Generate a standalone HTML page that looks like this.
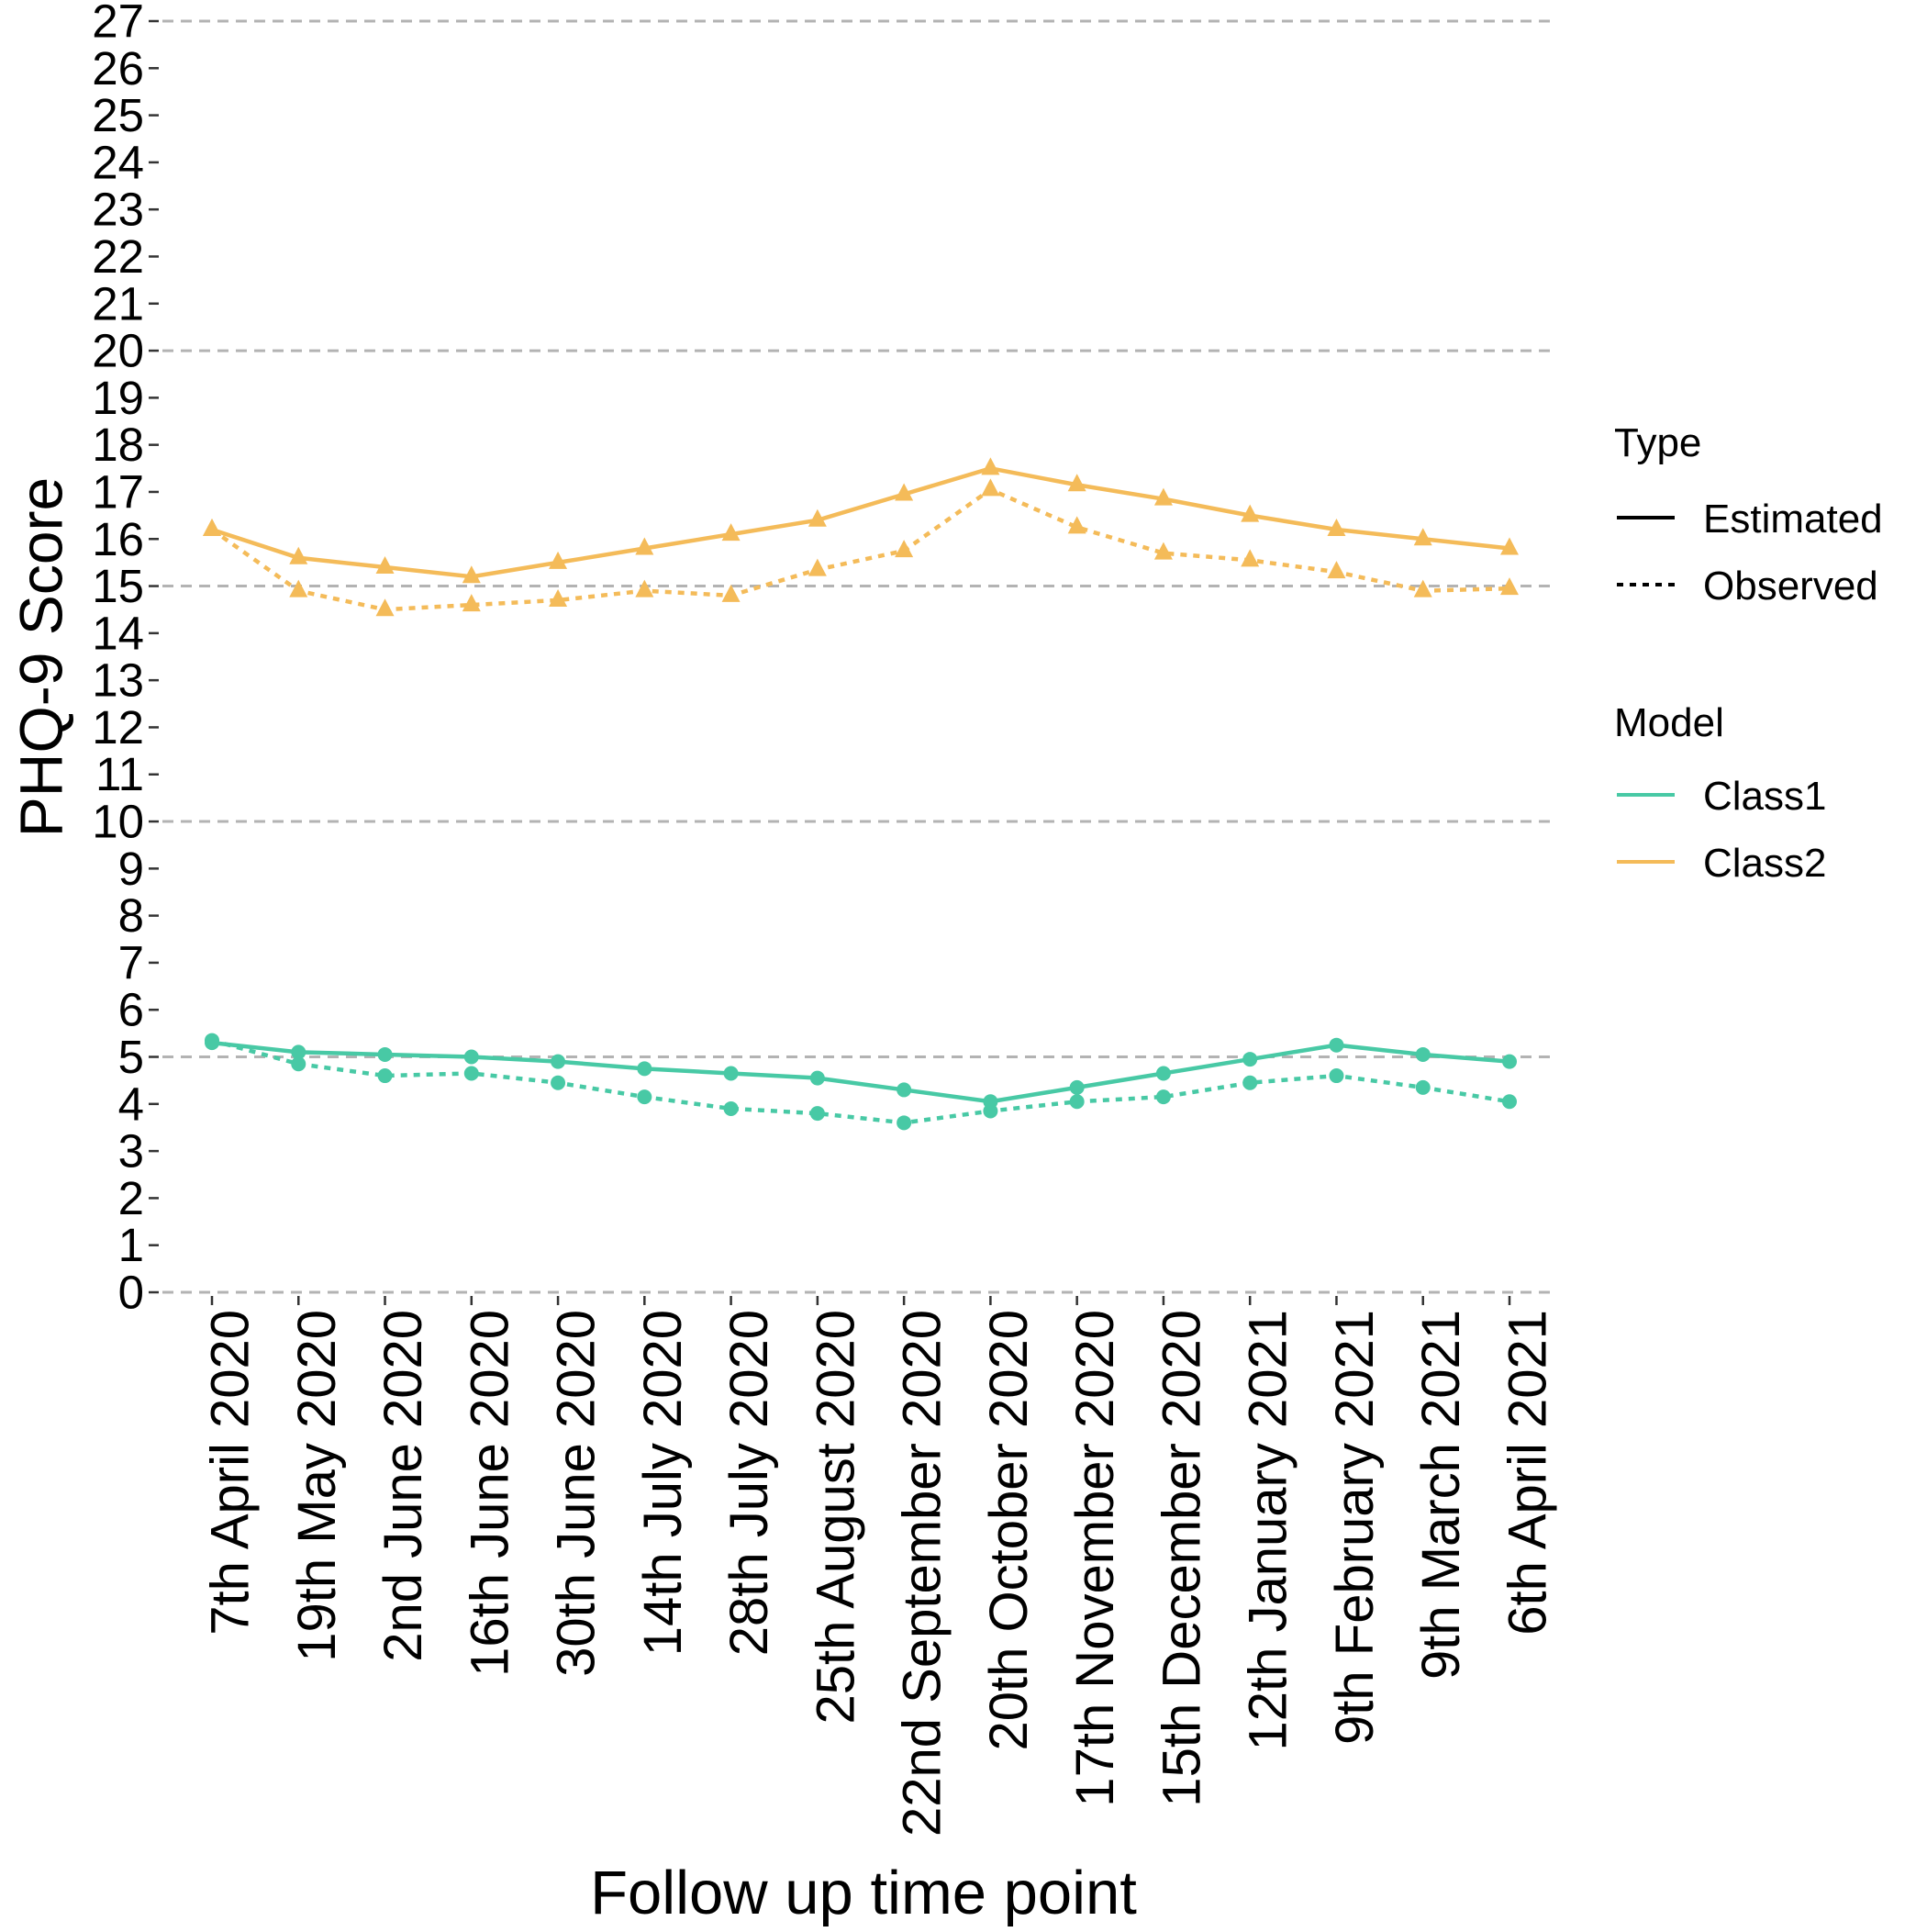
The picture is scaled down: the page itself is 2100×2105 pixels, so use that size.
<!DOCTYPE html>
<html><head><meta charset="utf-8"><style>
html,body{margin:0;padding:0;background:#fff}
svg text{font-family:"Liberation Sans",Arial,sans-serif;fill:#000}
</style></head><body>
<svg id="chart" width="2100" height="2100" xmlns="http://www.w3.org/2000/svg">
<g id="grid"></g>
<g id="yaxis"></g>
<g id="xaxis"></g>
<g id="series"></g>
<text transform="translate(50,716) rotate(-90)" text-anchor="middle" dominant-baseline="middle" font-size="66">PHQ-9 Score</text>
<text x="941" y="2085" text-anchor="middle" font-size="67">Follow up time point</text>
<g>
<text x="1759" y="497" font-size="44">Type</text>
<line x1="1762" x2="1825" y1="564" y2="564" stroke="#000" stroke-width="4"/>
<text x="1856" y="580" font-size="44">Estimated</text>
<line x1="1762" x2="1825" y1="637" y2="637" stroke="#000" stroke-width="4" stroke-dasharray="7,7"/>
<text x="1856" y="653" font-size="44">Observed</text>
<text x="1759" y="802" font-size="44">Model</text>
<line x1="1762" x2="1825" y1="866" y2="866" stroke="#48c9a5" stroke-width="4"/>
<text x="1856" y="882" font-size="44">Class1</text>
<line x1="1762" x2="1825" y1="939" y2="939" stroke="#f4bb59" stroke-width="4"/>
<text x="1856" y="955" font-size="44">Class2</text>
</g>
</svg>
<script>
const categories=["7th April 2020","19th May 2020","2nd June 2020","16th June 2020","30th June 2020","14th July 2020","28th July 2020","25th August 2020","22nd September 2020","20th October 2020","17th November 2020","15th December 2020","12th January 2021","9th February 2021","9th March 2021","6th April 2021"];
const class2Estimated=[16.2,15.6,15.4,15.2,15.5,15.8,16.1,16.4,16.95,17.5,17.15,16.85,16.5,16.2,16.0,15.8];
const class2Observed=[16.2,14.9,14.5,14.6,14.7,14.9,14.8,15.35,15.75,17.05,16.25,15.7,15.55,15.3,14.9,14.95];
const class1Estimated=[5.3,5.1,5.05,5.0,4.9,4.75,4.65,4.55,4.3,4.05,4.35,4.65,4.95,5.25,5.05,4.9];
const class1Observed=[5.35,4.85,4.6,4.65,4.45,4.15,3.9,3.8,3.6,3.85,4.05,4.15,4.45,4.6,4.35,4.05];
const yTicks=[0,1,2,3,4,5,6,7,8,9,10,11,12,13,14,15,16,17,18,19,20,21,22,23,24,25,26,27];
const gridValues=[0,5,10,15,20,27];
const NS="http://www.w3.org/2000/svg";
const x0=231,x1=1645,yb=1408,yt=23;
function xs(i){return x0+(x1-x0)*i/(categories.length-1);}
function ys(v){return yb-(yb-yt)*v/27;}
function mk(tag,attrs,parent){const e=document.createElementNS(NS,tag);for(const k in attrs)e.setAttribute(k,attrs[k]);parent.appendChild(e);return e;}
const grid=document.getElementById('grid'),ya=document.getElementById('yaxis'),xa=document.getElementById('xaxis'),se=document.getElementById('series');
gridValues.forEach(v=>{const l=mk('line',{x1:177,x2:1692,y1:ys(v),y2:ys(v),stroke:'#b3b3b3','stroke-width':3,'stroke-dasharray':'12,8'},grid);

});
yTicks.forEach(v=>{const t=mk('line',{x1:162,x2:173,y1:ys(v),y2:ys(v),stroke:'#333','stroke-width':2.5},ya);


const l=mk('text',{x:157,y:ys(v),'text-anchor':'end','dominant-baseline':'central','font-size':51},ya);l.textContent=v;

});
categories.forEach((c,i)=>{const t=mk('line',{x1:xs(i),x2:xs(i),y1:yb+4,y2:yb+14,stroke:'#333','stroke-width':2.5},xa);


const l=mk('text',{transform:`translate(${xs(i)+20},1427) rotate(-90)`,'text-anchor':'end','dominant-baseline':'central','font-size':58},xa);l.textContent=c;

});
function series(vals,color,dash,shape,name){
const g=mk('g',{},se);


const p=mk('polyline',{points:vals.map((v,i)=>xs(i)+','+ys(v)).join(' '),fill:'none',stroke:color,'stroke-width':4.5,'stroke-dasharray':dash||'none'},g);


vals.forEach((v,i)=>{const x=xs(i),y=ys(v);let m;
if(shape==='tri'){m=mk('polygon',{points:`${x},${y-12} ${x-10},${y+7} ${x+10},${y+7}`,fill:color},g);}
else{m=mk('circle',{cx:x,cy:y,r:8,fill:color},g);}

});}
series(class2Observed,'#f4bb59','7,7','tri','class2-observed');
series(class2Estimated,'#f4bb59',null,'tri','class2-estimated');
series(class1Observed,'#48c9a5','7,7','circ','class1-observed');
series(class1Estimated,'#48c9a5',null,'circ','class1-estimated');
</script>
</body></html>
